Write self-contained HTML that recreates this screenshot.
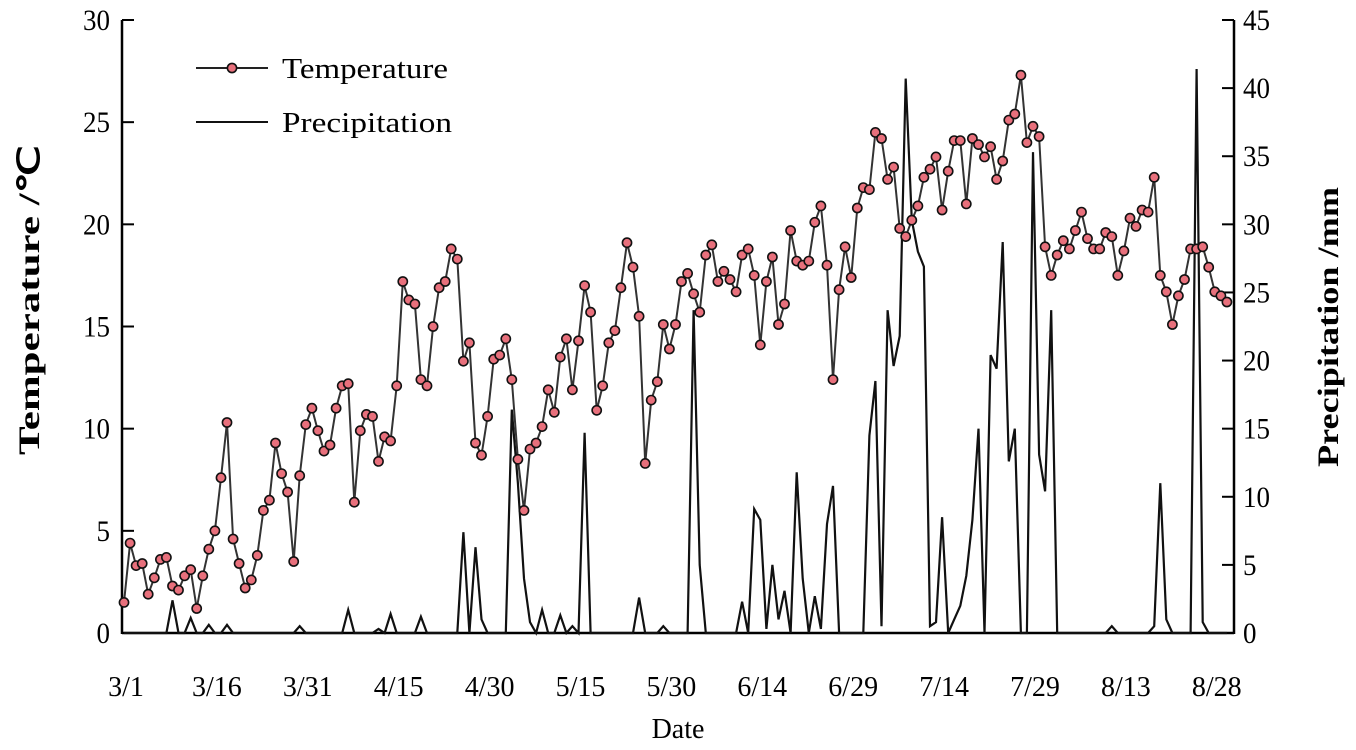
<!DOCTYPE html>
<html><head><meta charset="utf-8">
<style>
html,body{margin:0;padding:0;background:#fff;}
svg{display:block;font-family:"Liberation Serif",serif;}
</style></head>
<body>
<svg id="chart" width="1356" height="750" viewBox="0 0 1356 750" xmlns="http://www.w3.org/2000/svg">
<g id="axes"></g>
<g id="series"></g>
<g id="legend">
  <line x1="196" y1="68" x2="268" y2="68" stroke="#222" stroke-width="2"/>
  <circle cx="232" cy="68" r="4.6" fill="#e8707c" stroke="#111" stroke-width="1.6"/>
  <text x="282" y="78" font-size="29" textLength="166" lengthAdjust="spacingAndGlyphs">Temperature</text>
  <line x1="196" y1="122" x2="268" y2="122" stroke="#111" stroke-width="2"/>
  <text x="282" y="132" font-size="29" textLength="170" lengthAdjust="spacingAndGlyphs">Precipitation</text>
</g>
<text x="678" y="738" font-size="28" text-anchor="middle">Date</text>
<text transform="translate(39,455) rotate(-90)" font-size="30" font-weight="bold" textLength="310" lengthAdjust="spacingAndGlyphs">Temperature /℃</text>
<text transform="translate(1338,467) rotate(-90)" font-size="30" font-weight="bold" textLength="280" lengthAdjust="spacingAndGlyphs">Precipitation /mm</text>
</svg>
<script>
const dateLabels = ["3/1","3/16","3/31","4/15","4/30","5/15","5/30","6/14","6/29","7/14","7/29","8/13","8/28"];
const tempTicks = [0,5,10,15,20,25,30];
const precipTicks = [0,5,10,15,20,25,30,35,40,45];
const temperature = [
1.5,4.4,3.3,3.4,1.9,2.7,3.6,3.7,2.3,2.1,
2.8,3.1,1.2,2.8,4.1,5.0,7.6,10.3,4.6,3.4,
2.2,2.6,3.8,6.0,6.5,9.3,7.8,6.9,3.5,7.7,
10.2,11.0,9.9,8.9,9.2,11.0,12.1,12.2,6.4,9.9,
10.7,10.6,8.4,9.6,9.4,12.1,17.2,16.3,16.1,12.4,
12.1,15.0,16.9,17.2,18.8,18.3,13.3,14.2,9.3,8.7,
10.6,13.4,13.6,14.4,12.4,8.5,6.0,9.0,9.3,10.1,
11.9,10.8,13.5,14.4,11.9,14.3,17.0,15.7,10.9,12.1,
14.2,14.8,16.9,19.1,17.9,15.5,8.3,11.4,12.3,15.1,
13.9,15.1,17.2,17.6,16.6,15.7,18.5,19.0,17.2,17.7,
17.3,16.7,18.5,18.8,17.5,14.1,17.2,18.4,15.1,16.1,
19.7,18.2,18.0,18.2,20.1,20.9,18.0,12.4,16.8,18.9,
17.4,20.8,21.8,21.7,24.5,24.2,22.2,22.8,19.8,19.4,
20.2,20.9,22.3,22.7,23.3,20.7,22.6,24.1,24.1,21.0,
24.2,23.9,23.3,23.8,22.2,23.1,25.1,25.4,27.3,24.0,
24.8,24.3,18.9,17.5,18.5,19.2,18.8,19.7,20.6,19.3,
18.8,18.8,19.6,19.4,17.5,18.7,20.3,19.9,20.7,20.6,
22.3,17.5,16.7,15.1,16.5,17.3,18.8,18.8,18.9,17.9,
16.7,16.5,16.2];
const precipitation = [
0,0,0,0,0,0,0,0,2.4,0,
0,1.1,0,0,0.6,0,0,0.6,0,0,
0,0,0,0,0,0,0,0,0,0.5,
0,0,0,0,0,0,0,1.7,0,0,
0,0,0.3,0,1.4,0,0,0,0,1.2,
0,0,0,0,0,0,7.4,0,6.3,1.0,
0,0,0,0,16.4,11,4,0.8,0,1.7,
0,0,1.3,0,0.5,0,14.7,0,0,0,
0,0,0,0,0,2.6,0,0,0,0.5,
0,0,0,0,23.7,5.0,0,0,0,0,
0,0,2.3,0,9.1,8.3,0.3,5.0,1.0,3.1,
0,11.8,4,0,2.7,0.3,8.0,10.8,0,0,
0,0,0,14.5,18.5,0.5,23.7,19.6,21.8,40.7,
30.3,28,26.9,0.5,0.8,8.5,0,1,2,4.2,
8.3,15.0,0,20.4,19.4,28.7,12.6,15.0,0,0,
35.3,13.1,10.4,23.7,0,0,0,0,0,0,
0,0,0,0.5,0,0,0,0,0,0,
0.5,11.0,1.0,0,0,0,0,41.4,0.8,0,
0,0,0];

const NS="http://www.w3.org/2000/svg";
const L=122,R=1234,T=20,B=633;
const x0=124,dx=6.06;
function xs(d){return x0+d*dx;}
function yT(v){return B-(v/30)*(B-T);}
function yP(v){return B-(v/45)*(B-T);}
function mk(tag,attrs,parent){const e=document.createElementNS(NS,tag);for(const k in attrs)e.setAttribute(k,attrs[k]);parent.appendChild(e);return e;}
const axes=document.getElementById('axes'),series=document.getElementById('series');

let e=mk('line',{x1:L,y1:T,x2:L,y2:B+1,stroke:'#000','stroke-width':2.5},axes);


e=mk('line',{x1:R,y1:T,x2:R,y2:B+1,stroke:'#000','stroke-width':2.5},axes);


e=mk('line',{x1:L,y1:B,x2:R,y2:B,stroke:'#000','stroke-width':2.5},axes);



tempTicks.forEach(v=>{
  const y=yT(v);
  let t=mk('line',{x1:L,y1:y,x2:L+12,y2:y,stroke:'#000','stroke-width':2},axes);
  
  
  const s=String(v);
  let tx=mk('text',{x:L-12,y:y+10,'font-size':30,'text-anchor':'end',textLength:13.5*s.length,lengthAdjust:'spacingAndGlyphs'},axes);
  tx.textContent=s;
  
  
});
precipTicks.forEach(v=>{
  const y=yP(v);
  let t=mk('line',{x1:R-12,y1:y,x2:R,y2:y,stroke:'#000','stroke-width':2},axes);
  
  
  const s=String(v);
  let tx=mk('text',{x:R+9,y:y+10,'font-size':30,'text-anchor':'start',textLength:13.5*s.length,lengthAdjust:'spacingAndGlyphs'},axes);
  tx.textContent=s;
  
  
});
dateLabels.forEach((s,i)=>{
  let tx=mk('text',{x:xs(i*15)+2,y:696,'font-size':28,'text-anchor':'middle'},axes);
  tx.textContent=s;
  
  
});

let pp=precipitation.map((v,i)=>xs(i).toFixed(1)+','+yP(v).toFixed(1)).join(' ');
e=mk('polyline',{points:pp,fill:'none',stroke:'#111','stroke-width':2.2,'stroke-linejoin':'miter'},series);



let tp=temperature.map((v,i)=>xs(i).toFixed(1)+','+yT(v).toFixed(1)).join(' ');
e=mk('polyline',{points:tp,fill:'none',stroke:'#333','stroke-width':2},series);


temperature.forEach((v,i)=>{
  let c=mk('circle',{cx:xs(i).toFixed(1),cy:yT(v).toFixed(1),r:4.6,fill:'#e8707c',stroke:'#111','stroke-width':1.6},series);
  
  
});
</script>
</body></html>
